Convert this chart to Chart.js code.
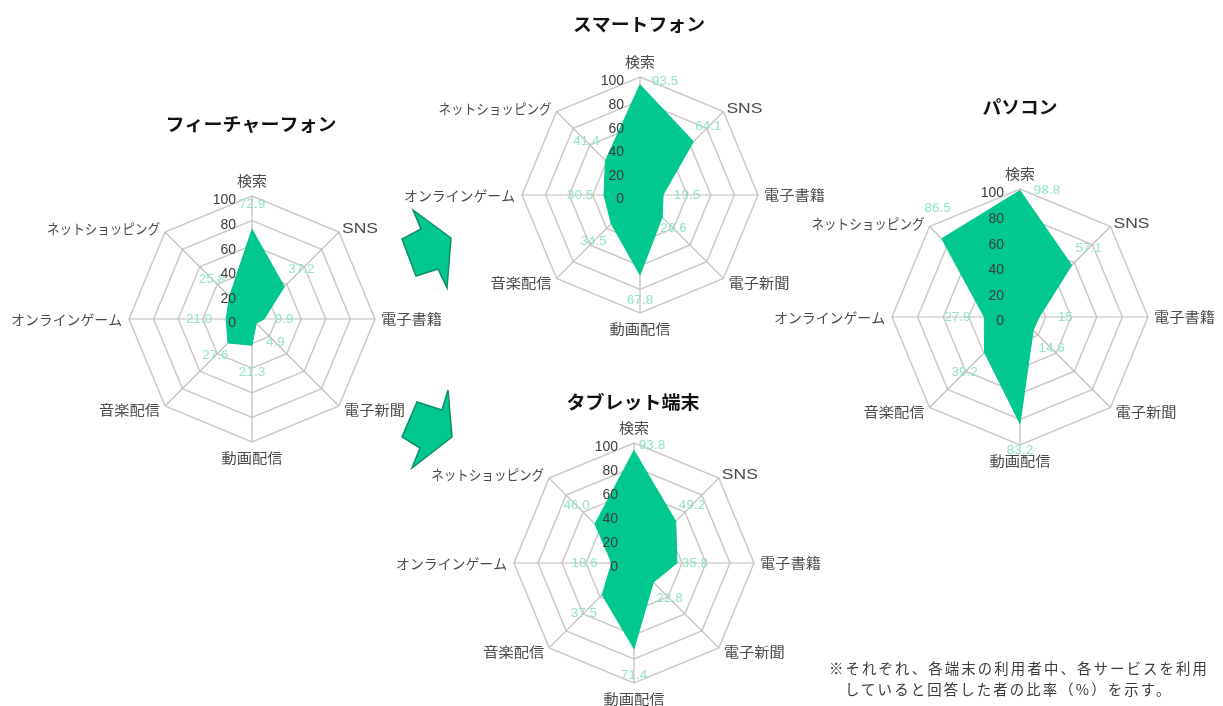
<!DOCTYPE html>
<html lang="ja">
<head>
<meta charset="utf-8">
<title>端末別サービス利用率</title>
<script src="https://cdn.jsdelivr.net/npm/chart.js@4"></script>
<style>
html, body { margin: 0; padding: 0; background: #fff; width: 1223px; height: 706px; overflow: hidden; }
#wrap { position: relative; width: 1223px; height: 706px; filter: blur(0.6px); }
canvas { position: absolute; left: 0; top: 0; }
#arrows { position: absolute; left: 0; top: 0; }
.note { position: absolute; left: 829px; font: 14.4px "Noto Sans CJK JP", sans-serif; letter-spacing: 2.13px; color: #3a3a3a; white-space: nowrap; }
</style>
</head>
<body>
<div id="wrap">
  <svg id="arrows" width="1223" height="706">
    <polygon points="413,210 451,238 447,288 438,269 416,276 402,239 421,229" fill="#00c88f" stroke="#0a8f68" stroke-width="1.5"/>
    <polygon points="448,390 452,437 412,468 420,448 402,437 417,402 442,410" fill="#00c88f" stroke="#0a8f68" stroke-width="1.5"/>
  </svg>
  <canvas id="feature" width="1223" height="706"></canvas>
  <canvas id="smart" width="1223" height="706"></canvas>
  <canvas id="tablet" width="1223" height="706"></canvas>
  <canvas id="pc" width="1223" height="706"></canvas>
  <div class="note" style="top:657px">※それぞれ、各端末の利用者中、各サービスを利用</div>
  <div class="note" style="top:678px;left:845px">していると回答した者の比率（%）を示す。</div>
</div>
<script>
var categories = ["検索", "SNS", "電子書籍", "電子新聞", "動画配信", "音楽配信", "オンラインゲーム", "ネットショッピング"];
var tickValues = [0, 20, 40, 60, 80, 100];

var featureValues = [72.9, 37.2, 9.9, 4.9, 21.3, 27.6, 21.0, 25.8];
var smartValues = [93.5, 64.1, 19.5, 26.6, 67.8, 34.5, 30.5, 41.4];
var tabletValues = [93.8, 49.2, 35.8, 22.8, 71.4, 37.5, 18.6, 46.0];
var pcValues = [98.8, 57.1, 15, 14.6, 83.2, 39.2, 27.9, 86.5];

// drawn widths of the category labels, the source font is proportional
var labelWidths = [30, 36, 61, 61, 61, 61, 111, 113];

var pageW = 1223, pageH = 706;
var jpFont = '"Noto Sans CJK JP", sans-serif';
var latinFont = '"Liberation Sans", Arial, sans-serif';

function fmt(v) {
  return v === 15 ? "15" : v.toFixed(1);
}

// text squeezed or spaced out to a given width
function fitText(ctx, text, x, y, width, align) {
  ctx.letterSpacing = "0px";
  var w = ctx.measureText(text).width;
  var left = x;
  if (align === "center") left = x - width / 2;
  if (align === "right") left = x - width;
  ctx.save();
  ctx.translate(left, y);
  ctx.scale(width / w, 1);
  ctx.textAlign = "left";
  ctx.fillText(text, 0, 0);
  ctx.restore();
}

var radarText = {
  id: "radarText",
  afterDatasetsDraw: function(chart, args, opts) {
    var ctx = chart.ctx;
    var scale = chart.scales.r;
    var r = scale.drawingArea;
    var cx = scale.xCenter, cy = scale.yCenter;
    ctx.save();
    ctx.textBaseline = "middle";

    // category labels
    ctx.fillStyle = "#4a4a4a";
    var dx = [0, 3, 6, 5, 0, -5, -7, -5];
    var dy = [-15, -3, 0, 4, 16, 4, 1, -3];
    var aligns = ["center", "left", "left", "left", "center", "right", "right", "right"];
    categories.forEach(function(name, i) {
      var p = scale.getPointPosition(i, r);
      ctx.font = (name === "SNS" ? "15.5px " + latinFont : "14px " + jpFont);
      fitText(ctx, name, p.x + dx[i], p.y + dy[i], labelWidths[i], aligns[i]);
    });

    // value labels
    ctx.font = "13.5px " + latinFont;
    ctx.fillStyle = "#96e3c6";
    ctx.textAlign = "center";
    chart.data.datasets[0].data.forEach(function(v, i) {
      var d = scale.getDistanceFromCenterForValue(v) + opts.gaps[i];
      var p = scale.getPointPosition(i, d);
      var s = opts.shift[i] || [0, 0];
      ctx.fillText(fmt(v), p.x + s[0], p.y + s[1]);
    });

    // ticks sit left of the vertical axis, over the fill
    ctx.font = "14px " + latinFont;
    ctx.fillStyle = "#3c3c3c";
    ctx.textAlign = "right";
    tickValues.forEach(function(t) {
      ctx.fillText(String(t), cx - 16, cy - scale.getDistanceFromCenterForValue(t) + 4.5);
    });

    // title
    ctx.fillStyle = "#111";
    ctx.font = "bold 18px " + jpFont;
    fitText(ctx, opts.title, opts.titleX, opts.titleY, opts.titleW, "center");
    ctx.restore();
  }
};

function makeRadar(id, values, cx, cy, r, text) {
  return new Chart(document.getElementById(id), {
    type: "radar",
    data: {
      labels: categories,
      datasets: [{
        data: values,
        backgroundColor: "#00c88f",
        borderColor: "#00c88f",
        borderWidth: 1,
        pointRadius: 0,
        fill: true
      }]
    },
    options: {
      responsive: false,
      animation: false,
      layout: { padding: { left: cx - r, right: pageW - cx - r, top: cy - r, bottom: pageH - cy - r } },
      plugins: {
        legend: { display: false },
        tooltip: { enabled: false },
        radarText: text
      },
      scales: {
        r: {
          min: 0,
          max: 100,
          ticks: { stepSize: 20, display: false },
          grid: { color: "#cacaca", lineWidth: 1.5 },
          angleLines: { color: "#bdbdbd", lineWidth: 1.2 },
          pointLabels: { display: false }
        }
      }
    },
    plugins: [radarText]
  });
}

makeRadar("feature", featureValues, 252, 319, 123, {
  title: "フィーチャーフォン", titleX: 251, titleY: 124, titleW: 171,
  gaps: [25, 24, 20, 27, 27, 18, 27, 25], shift: {}
});
makeRadar("smart", smartValues, 640, 195, 118, {
  title: "スマートフォン", titleX: 639, titleY: 24, titleW: 132,
  gaps: [3, 21, 24, 16, 25, 25, 24, 27], shift: { 0: [25, 0] }
});
makeRadar("tablet", tabletValues, 634, 563, 120, {
  title: "タブレット端末", titleX: 633, titleY: 402, titleW: 133,
  gaps: [5, 23, 18, 23, 27, 26, 27, 26], shift: { 0: [18, 0] }
});
makeRadar("pc", pcValues, 1020, 317, 128, {
  title: "パソコン", titleX: 1020, titleY: 107, titleW: 75,
  gaps: [0, 24, 26, 26, 27, 28, 27, 0], shift: { 0: [27, 0], 7: [-4, -30] }
});
</script>
</body>
</html>
